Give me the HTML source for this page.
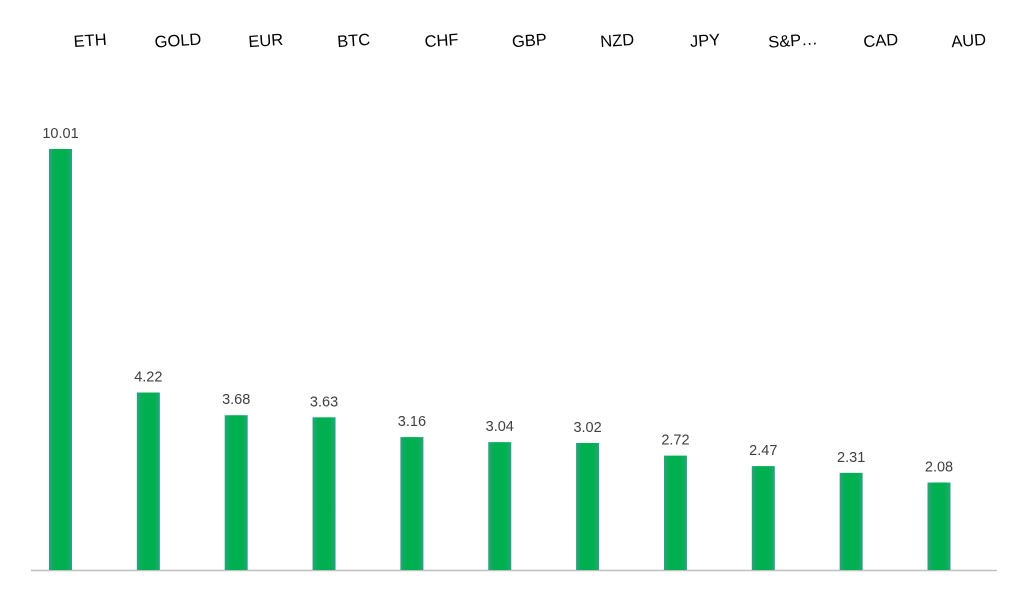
<!DOCTYPE html>
<html><head><meta charset="utf-8"><style>
body{margin:0;background:#fff;}
svg text{font-family:"Liberation Sans",sans-serif;}
</style></head><body>
<svg width="1026" height="590" viewBox="0 0 1026 590">
<defs>
<linearGradient id="g" x1="0" x2="1" y1="0" y2="0">
<stop offset="0" stop-color="#2aa37f"/><stop offset="0.25" stop-color="#00b050"/><stop offset="0.75" stop-color="#00b050"/><stop offset="1" stop-color="#2aa37f"/>
</linearGradient>
</defs>
<line x1="31" y1="570.5" x2="997" y2="570.5" stroke="#bfbfbf" stroke-width="1.5"/>
<g id="bars"></g>
</svg>
<script>
const categories=["ETH","GOLD","EUR","BTC","CHF","GBP","NZD","JPY","S&P…","CAD","AUD"];
const values=[10.01,4.22,3.68,3.63,3.16,3.04,3.02,2.72,2.47,2.31,2.08];
const labels=["10.01","4.22","3.68","3.63","3.16","3.04","3.02","2.72","2.47","2.31","2.08"];
const NS="http://www.w3.org/2000/svg";
const g=document.getElementById('bars');
const x0=60.5, step=87.85, barW=23, base=570, scale=42.06;
const xs=i=>x0+i*step;
const ys=v=>base-v*scale;
categories.forEach((c,i)=>{
  const cx=xs(i);
  const r=document.createElementNS(NS,'rect');
  
  
  r.setAttribute('x',cx-barW/2);r.setAttribute('y',ys(values[i]));
  r.setAttribute('width',barW);r.setAttribute('height',base-ys(values[i]));
  r.setAttribute('fill','url(#g)');g.appendChild(r);
  const t=document.createElementNS(NS,'text');
  
  
  t.setAttribute('x',cx);t.setAttribute('y',ys(values[i])-11);
  t.setAttribute('text-anchor','middle');t.setAttribute('font-size','14.5');t.setAttribute('fill','#404040');
  t.textContent=labels[i];g.appendChild(t);
  const l=document.createElementNS(NS,'text');
  
  
  const lx=cx+30, ly=46;
  l.setAttribute('x',lx);l.setAttribute('y',ly);
  l.setAttribute('text-anchor','middle');l.setAttribute('font-size','16.5');l.setAttribute('fill','#000');
  l.setAttribute('transform','rotate(-4 '+lx+' '+ly+')');
  l.textContent=c;g.appendChild(l);
});
</script>
</body></html>
